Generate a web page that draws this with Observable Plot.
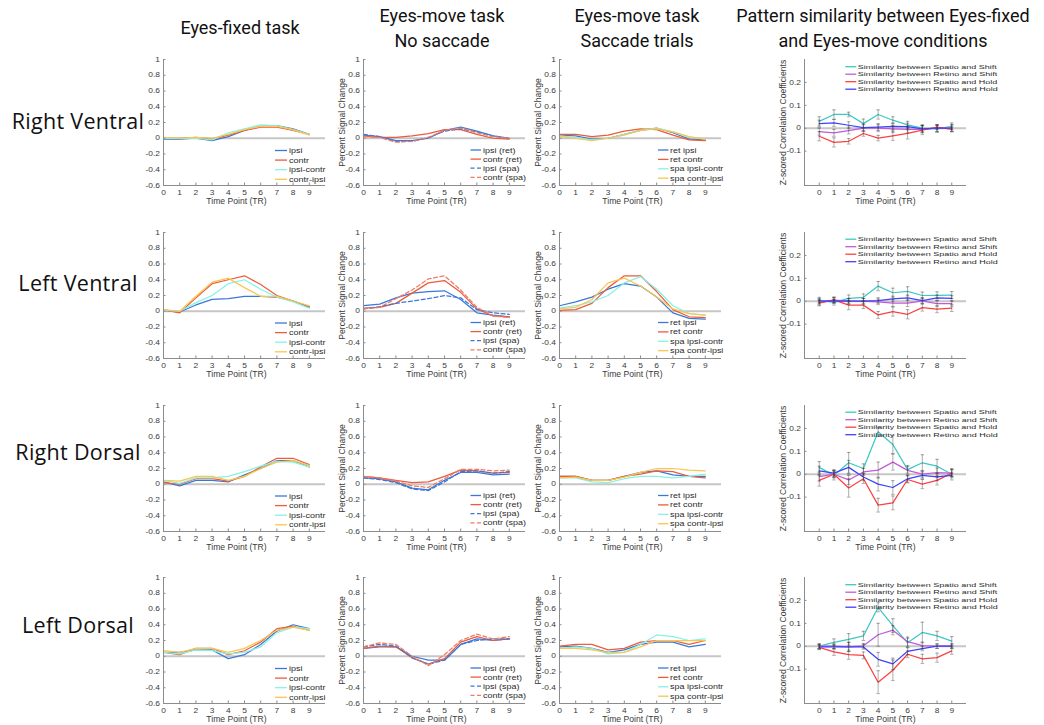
<!DOCTYPE html>
<html>
<head>
<meta charset="utf-8">
<script src="https://cdn.jsdelivr.net/npm/d3@7"></script>
<script src="https://cdn.jsdelivr.net/npm/@observablehq/plot@0.6"></script>
<style>
  body { margin: 0; background: #fff; }
  #fig { position: relative; width: 1044px; height: 725px; overflow: hidden; background: #fff;
         font-family: "Liberation Sans", Arial, sans-serif; }
  .title { position: absolute; font-family: Roboto, sans-serif; font-size: 18px; color: #111;
           white-space: nowrap; line-height: 1; transform: translate(-50%, -50%); }
  .region { position: absolute; font-family: "Open Sans", sans-serif; font-size: 21.5px; letter-spacing: 0.3px;
            color: #111; white-space: nowrap; line-height: 1; transform: translate(-50%, -50%); }
  .panel { position: absolute; }
  .panel svg { overflow: visible; }
  .legend { position: absolute; left: 0; top: 0; overflow: visible; pointer-events: none; }
</style>
</head>
<body>
<div id="fig"></div>
<script>
// ---- labels ----
const timePoints = [0, 1, 2, 3, 4, 5, 6, 7, 8, 9];
const signalTicks = [-0.6, -0.4, -0.2, 0, 0.2, 0.4, 0.6, 0.8, 1];
const similarityTicks = [-0.1, 0, 0.1, 0.2];
const regionNames = ["Right Ventral", "Left Ventral", "Right Dorsal", "Left Dorsal"];
const columnTitles = [
  ["Eyes-fixed task"],
  ["Eyes-move task", "No saccade"],
  ["Eyes-move task", "Saccade trials"],
  ["Pattern similarity between Eyes-fixed", "and Eyes-move conditions"]
];
const fixedLabels = ["ipsi", "contr", "ipsi-contr", "contr-ipsi"];
const noSaccadeLabels = ["ipsi (ret)", "contr (ret)", "ipsi (spa)", "contr (spa)"];
const saccadeLabels = ["ret ipsi", "ret contr", "spa ipsi-contr", "spa contr-ipsi"];
const similarityLabels = [
  "Similarity between Spatio and Shift",
  "Similarity between Retino and Shift",
  "Similarity between Spatio and Hold",
  "Similarity between Retino and Hold"
];

// ---- percent signal change, Eyes-fixed task (ipsi, contr, ipsi-contr, contr-ipsi) ----
const rightVentralFixed = [
  [-0.01, -0.01, 0.00, -0.03, 0.02, 0.10, 0.15, 0.16, 0.12, 0.05],
  [0.00, 0.00, 0.01, -0.01, 0.04, 0.10, 0.14, 0.14, 0.10, 0.05],
  [0.00, 0.00, 0.00, -0.02, 0.07, 0.12, 0.17, 0.16, 0.11, 0.05],
  [0.01, 0.00, 0.01, 0.00, 0.05, 0.11, 0.15, 0.15, 0.11, 0.04]
];
const leftVentralFixed = [
  [0.01, -0.01, 0.08, 0.15, 0.16, 0.19, 0.19, 0.18, 0.13, 0.05],
  [0.02, -0.02, 0.17, 0.35, 0.40, 0.45, 0.34, 0.20, 0.13, 0.06],
  [0.01, 0.00, 0.11, 0.20, 0.35, 0.40, 0.28, 0.18, 0.12, 0.04],
  [0.02, 0.00, 0.19, 0.37, 0.42, 0.30, 0.19, 0.19, 0.13, 0.07]
];
const rightDorsalFixed = [
  [0.03, -0.02, 0.05, 0.05, 0.03, 0.12, 0.20, 0.30, 0.30, 0.22],
  [0.02, 0.00, 0.07, 0.07, 0.04, 0.10, 0.22, 0.33, 0.33, 0.25],
  [0.05, 0.01, 0.08, 0.08, 0.10, 0.16, 0.23, 0.29, 0.28, 0.22],
  [0.05, 0.04, 0.10, 0.10, 0.05, 0.10, 0.20, 0.28, 0.30, 0.24]
];
const leftDorsalFixed = [
  [0.05, 0.05, 0.08, 0.08, -0.03, 0.02, 0.15, 0.32, 0.40, 0.35],
  [0.05, 0.02, 0.10, 0.10, 0.02, 0.07, 0.18, 0.35, 0.38, 0.33],
  [0.05, 0.03, 0.08, 0.07, 0.03, 0.05, 0.12, 0.30, 0.37, 0.35],
  [0.07, 0.05, 0.10, 0.10, 0.05, 0.10, 0.20, 0.33, 0.37, 0.33]
];

// ---- Eyes-move task, no saccade (ipsi ret, contr ret, ipsi spa, contr spa) ----
const rightVentralNoSaccade = [
  [0.04, 0.02, -0.03, -0.03, 0.00, 0.10, 0.14, 0.09, 0.03, 0.00],
  [0.03, 0.01, 0.01, 0.03, 0.06, 0.11, 0.11, 0.05, 0.00, -0.01],
  [0.05, 0.02, -0.04, -0.04, 0.01, 0.09, 0.12, 0.08, 0.03, 0.00],
  [0.02, 0.01, -0.05, -0.04, 0.01, 0.10, 0.13, 0.07, 0.02, 0.00]
];
const leftVentralNoSaccade = [
  [0.07, 0.09, 0.17, 0.23, 0.25, 0.26, 0.15, -0.02, -0.05, -0.07],
  [0.04, 0.05, 0.10, 0.23, 0.36, 0.39, 0.24, 0.03, -0.06, -0.07],
  [0.03, 0.06, 0.10, 0.13, 0.16, 0.20, 0.17, 0.02, -0.02, -0.04],
  [0.03, 0.05, 0.16, 0.27, 0.41, 0.45, 0.27, 0.05, -0.06, -0.08]
];
const rightDorsalNoSaccade = [
  [0.08, 0.07, 0.03, -0.05, -0.07, 0.05, 0.15, 0.15, 0.12, 0.13],
  [0.10, 0.08, 0.05, 0.02, 0.03, 0.10, 0.18, 0.17, 0.14, 0.15],
  [0.08, 0.06, 0.02, -0.06, -0.08, 0.03, 0.16, 0.17, 0.14, 0.16],
  [0.10, 0.08, 0.04, -0.02, -0.04, 0.07, 0.19, 0.19, 0.17, 0.18]
];
const leftDorsalNoSaccade = [
  [0.10, 0.12, 0.12, 0.00, -0.05, -0.05, 0.15, 0.22, 0.20, 0.22],
  [0.10, 0.13, 0.12, -0.02, -0.10, -0.03, 0.18, 0.25, 0.20, 0.22],
  [0.12, 0.15, 0.13, -0.02, -0.10, -0.05, 0.15, 0.20, 0.22, 0.22],
  [0.12, 0.17, 0.15, 0.00, -0.12, 0.02, 0.20, 0.28, 0.22, 0.25]
];

// ---- Eyes-move task, saccade trials (ret ipsi, ret contr, spa ipsi-contr, spa contr-ipsi) ----
const rightVentralSaccade = [
  [0.04, 0.03, -0.01, 0.00, 0.05, 0.10, 0.13, 0.07, -0.01, -0.02],
  [0.05, 0.05, 0.02, 0.04, 0.09, 0.12, 0.11, 0.04, -0.02, -0.03],
  [0.03, 0.01, -0.02, 0.00, 0.05, 0.10, 0.13, 0.08, 0.01, -0.01],
  [0.02, 0.00, -0.03, 0.00, 0.04, 0.10, 0.12, 0.08, 0.02, -0.01]
];
const leftVentralSaccade = [
  [0.07, 0.12, 0.18, 0.28, 0.35, 0.32, 0.18, -0.02, -0.09, -0.10],
  [0.01, 0.02, 0.10, 0.30, 0.45, 0.45, 0.25, 0.02, -0.07, -0.08],
  [0.04, 0.07, 0.12, 0.20, 0.36, 0.44, 0.28, 0.07, -0.03, -0.05],
  [0.03, 0.05, 0.15, 0.36, 0.42, 0.32, 0.18, 0.03, -0.03, -0.05]
];
const rightDorsalSaccade = [
  [0.10, 0.10, 0.05, 0.05, 0.10, 0.15, 0.17, 0.12, 0.10, 0.10],
  [0.10, 0.10, 0.05, 0.05, 0.10, 0.13, 0.17, 0.16, 0.10, 0.08],
  [0.08, 0.08, 0.03, 0.02, 0.07, 0.10, 0.10, 0.08, 0.10, 0.13],
  [0.08, 0.09, 0.05, 0.05, 0.09, 0.15, 0.20, 0.20, 0.18, 0.17]
];
const leftDorsalSaccade = [
  [0.12, 0.13, 0.10, 0.05, 0.08, 0.15, 0.18, 0.18, 0.12, 0.15],
  [0.13, 0.15, 0.15, 0.08, 0.10, 0.18, 0.20, 0.20, 0.15, 0.20],
  [0.10, 0.12, 0.10, 0.03, 0.05, 0.15, 0.27, 0.25, 0.20, 0.22],
  [0.10, 0.10, 0.08, 0.05, 0.05, 0.12, 0.20, 0.20, 0.20, 0.20]
];

// ---- z-scored pattern similarity (Spatio-Shift, Retino-Shift, Spatio-Hold, Retino-Hold) ----
const rightVentralSimilarity = [
  [0.030, 0.060, 0.060, 0.020, 0.060, 0.035, 0.015, 0.000, -0.003, 0.008],
  [-0.015, -0.020, -0.010, 0.000, 0.000, -0.003, -0.005, -0.005, 0.000, 0.000],
  [-0.035, -0.062, -0.057, -0.023, -0.043, -0.033, -0.022, -0.008, 0.005, -0.005],
  [0.020, 0.023, 0.013, 0.003, 0.005, 0.008, 0.007, -0.003, 0.000, 0.000]
];
const rightVentralSimilarityErr = [
  [0.020, 0.020, 0.010, 0.020, 0.020, 0.015, 0.015, 0.015, 0.015, 0.015],
  [0.015, 0.015, 0.015, 0.015, 0.015, 0.015, 0.015, 0.015, 0.015, 0.015],
  [0.020, 0.020, 0.012, 0.012, 0.012, 0.020, 0.025, 0.020, 0.010, 0.010],
  [0.015, 0.015, 0.015, 0.015, 0.015, 0.015, 0.015, 0.015, 0.015, 0.015]
];
const leftVentralSimilarity = [
  [0.005, -0.005, 0.012, 0.017, 0.066, 0.037, 0.043, 0.025, 0.026, 0.027],
  [-0.005, 0.005, 0.000, 0.000, -0.003, -0.008, -0.008, 0.002, -0.010, -0.010],
  [-0.008, 0.006, -0.017, -0.017, -0.060, -0.045, -0.057, -0.028, -0.035, -0.030],
  [0.000, 0.002, 0.000, 0.000, 0.003, 0.010, 0.015, 0.003, 0.015, 0.012]
];
const leftVentralSimilarityErr = [
  [0.012, 0.012, 0.015, 0.015, 0.020, 0.020, 0.020, 0.015, 0.015, 0.015],
  [0.012, 0.012, 0.012, 0.012, 0.012, 0.015, 0.015, 0.012, 0.012, 0.012],
  [0.012, 0.012, 0.020, 0.015, 0.015, 0.020, 0.020, 0.015, 0.015, 0.015],
  [0.012, 0.012, 0.012, 0.012, 0.012, 0.012, 0.012, 0.012, 0.012, 0.012]
];
const rightDorsalSimilarity = [
  [0.030, -0.005, 0.050, 0.025, 0.185, 0.130, 0.020, 0.050, 0.035, 0.000],
  [-0.010, 0.000, -0.025, 0.010, 0.018, 0.053, 0.017, 0.000, 0.007, 0.005],
  [-0.027, 0.000, -0.060, -0.020, -0.135, -0.125, -0.023, -0.043, -0.027, 0.005],
  [0.015, 0.005, 0.030, -0.012, -0.043, -0.058, -0.020, -0.005, -0.012, -0.005]
];
const rightDorsalSimilarityErr = [
  [0.025, 0.020, 0.045, 0.020, 0.020, 0.040, 0.015, 0.035, 0.030, 0.025],
  [0.020, 0.015, 0.020, 0.015, 0.035, 0.035, 0.020, 0.015, 0.020, 0.015],
  [0.025, 0.015, 0.040, 0.020, 0.030, 0.030, 0.015, 0.020, 0.020, 0.015],
  [0.020, 0.015, 0.030, 0.015, 0.030, 0.030, 0.015, 0.015, 0.015, 0.010]
];
const leftDorsalSimilarity = [
  [0.000, 0.017, 0.030, 0.045, 0.170, 0.090, 0.015, 0.060, 0.045, 0.022],
  [0.000, 0.000, -0.003, 0.002, 0.050, 0.070, 0.020, 0.003, 0.000, 0.000],
  [-0.005, -0.025, -0.037, -0.040, -0.157, -0.105, -0.035, -0.055, -0.050, -0.020],
  [-0.003, -0.003, -0.003, -0.003, -0.057, -0.077, -0.022, -0.010, 0.000, 0.000]
];
const leftDorsalSimilarityErr = [
  [0.010, 0.015, 0.025, 0.020, 0.020, 0.030, 0.020, 0.045, 0.020, 0.020],
  [0.010, 0.010, 0.020, 0.010, 0.050, 0.020, 0.020, 0.015, 0.010, 0.010],
  [0.010, 0.015, 0.020, 0.015, 0.050, 0.045, 0.015, 0.020, 0.020, 0.015],
  [0.010, 0.010, 0.020, 0.010, 0.030, 0.025, 0.015, 0.010, 0.010, 0.010]
];

// ---- styles ----
const fixedColors = ["#3a78d8", "#ec5b3e", "#86f2e6", "#f9c64f"];
const noSaccadeColors = ["#3a78d8", "#ec5b3e", "#3a78d8", "#f07a62"];
const noSaccadeDashes = [null, null, "4,2.5", "4,2.5"];
const similarityColors = ["#3cc9c4", "#c45ad8", "#ff4040", "#4040ff"];

// ---- layout ----
const fig = document.getElementById("fig");
const frameW = 162;
const frameH = 126;
const frameLefts = [163, 363, 559, 804.3];
const frameTops = [59, 231.5, 404.5, 577];
const M = {l: 40, r: 6, t: 4, b: 30};
const axisColor = "#8c8c8c";
const textColor = "#3a3a3a";

// stretch text horizontally around its anchor
function stretchText(svg, selector, k) {
  svg.querySelectorAll(selector).forEach(t => {
    const tr = t.getAttribute("transform") || "";
    const x = t.getAttribute("x"), y = t.getAttribute("y");
    if (x != null && !tr) {
      t.setAttribute("transform", `translate(${x},${y || 0})`);
      t.removeAttribute("x");
      if (y != null && !/em/.test(y)) t.removeAttribute("y");
    }
    t.setAttribute("transform", (t.getAttribute("transform") || "") + ` scale(${k},1)`);
  });
}

function axisMarks(xDomain, yDomain, yTicks, yLabel) {
  return [
    Plot.ruleX([xDomain[0]], {stroke: axisColor, strokeWidth: 1}),
    Plot.ruleY([yDomain[0]], {stroke: axisColor, strokeWidth: 1}),
    Plot.axisX({ticks: timePoints, tickSize: 0, tickPadding: 4.5, tickFormat: d => String(d),
                label: null, fill: textColor, fontSize: 7}),
    Plot.axisX({ticks: timePoints, tickSize: 2.5, dy: -2.5, tickFormat: () => "", label: null, stroke: axisColor}),
    Plot.axisY({ticks: yTicks, tickSize: 0, tickPadding: 3.5, tickFormat: d => String(d),
                label: null, fill: textColor, fontSize: 7}),
    Plot.axisY({ticks: yTicks, tickSize: 2.5, dx: 2.5, tickFormat: () => "", label: null, stroke: axisColor}),
    Plot.text(["Time Point (TR)"], {frameAnchor: "bottom", dy: 15.5, dx: xDomain[0] === 0 ? -8 : 0,
                textAnchor: "middle", lineAnchor: "middle", fill: textColor, fontSize: 8.6}),
    ...(yLabel ? [Plot.text([yLabel], {frameAnchor: "left", dx: -21, rotate: -90,
                textAnchor: "middle", lineAnchor: "middle", fill: textColor, fontSize: 8.6})] : [])
  ];
}

function place(svg, col, row) {
  const wrap = document.createElement("div");
  wrap.className = "panel";
  wrap.style.left = (frameLefts[col] - M.l) + "px";
  wrap.style.top = (frameTops[row] - M.t) + "px";
  wrap.appendChild(svg);
  fig.appendChild(wrap);
}

function legend(col, row, labels, colors, dashes, opts) {
  const x0 = frameLefts[col], y0 = frameTops[row];
  const svg = d3.create("svg").attr("class", "legend").attr("width", 1044).attr("height", 725)
    .style("position", "absolute").style("left", "0px").style("top", "0px");
  labels.forEach((lab, i) => {
    const y = y0 + opts.y + i * opts.step;
    svg.append("line").attr("x1", x0 + opts.x1).attr("x2", x0 + opts.x2).attr("y1", y).attr("y2", y)
      .attr("stroke", colors[i]).attr("stroke-width", 1.3)
      .attr("stroke-dasharray", dashes ? dashes[i] : null);
    svg.append("text").attr("transform", `translate(${x0 + opts.tx},${y}) scale(${opts.k},1)`)
      .attr("dy", "0.35em").attr("font-size", opts.fs).attr("fill", "#2a2a2a")
      .attr("font-family", "Liberation Sans, Arial, sans-serif").text(lab);
  });
  fig.appendChild(svg.node());
}

function signalPanel(col, row, series, labels, colors, dashes, yLabel) {
  const data = series.flatMap((vals, s) => vals.map((v, i) => ({t: timePoints[i], v, s})));
  const xDomain = [0, 10], yDomain = [-0.6, 1];
  const svg = Plot.plot({
    width: M.l + frameW + M.r, height: M.t + frameH + M.b,
    marginLeft: M.l, marginRight: M.r, marginTop: M.t, marginBottom: M.b,
    x: {domain: xDomain, axis: null},
    y: {domain: yDomain, axis: null},
    style: {fontFamily: "Liberation Sans, Arial, sans-serif", background: "transparent", overflow: "visible"},
    marks: [
      Plot.ruleY([0], {stroke: "#c6c6c6", strokeWidth: 2}),
      ...series.map((_, s) => Plot.line(data.filter(d => d.s === s), {
        x: "t", y: "v", stroke: colors[s], strokeWidth: 1.25,
        strokeDasharray: dashes ? dashes[s] : undefined
      })),
      ...axisMarks(xDomain, yDomain, signalTicks, yLabel)
    ]
  });
  stretchText(svg, '[aria-label="x-axis tick label"] text, [aria-label="y-axis tick label"] text', 1.2);
  place(svg, col, row);
}

function similarityPanel(row, series, errors) {
  const data = series.flatMap((vals, s) => vals.map((v, i) => ({t: timePoints[i], v, e: errors[s][i], s})));
  const xDomain = [-1, 10], yDomain = [-0.25, 0.3];
  const svg = Plot.plot({
    width: M.l + frameW + M.r, height: M.t + frameH + M.b,
    marginLeft: M.l, marginRight: M.r, marginTop: M.t, marginBottom: M.b,
    x: {domain: xDomain, axis: null},
    y: {domain: yDomain, axis: null},
    style: {fontFamily: "Liberation Sans, Arial, sans-serif", background: "transparent", overflow: "visible"},
    marks: [
      Plot.ruleY([0], {stroke: "#c6c6c6", strokeWidth: 2}),
      ...series.map((_, s) => Plot.line(data.filter(d => d.s === s), {
        x: "t", y: "v", stroke: similarityColors[s], strokeWidth: 1.25
      })),
      Plot.ruleX(data, {x: "t", y1: d => d.v - d.e, y2: d => d.v + d.e, stroke: "#333", strokeOpacity: 0.5, strokeWidth: 0.8}),
      Plot.link(data, {x1: d => d.t - 0.12, x2: d => d.t + 0.12, y1: d => d.v - d.e, y2: d => d.v - d.e,
                       stroke: "#333", strokeOpacity: 0.5, strokeWidth: 0.8}),
      Plot.link(data, {x1: d => d.t - 0.12, x2: d => d.t + 0.12, y1: d => d.v + d.e, y2: d => d.v + d.e,
                       stroke: "#333", strokeOpacity: 0.5, strokeWidth: 0.8}),
      ...axisMarks(xDomain, yDomain, similarityTicks, "Z-scored Correlation Coefficients")
    ]
  });
  stretchText(svg, '[aria-label="x-axis tick label"] text, [aria-label="y-axis tick label"] text', 1.2);
  place(svg, 3, row);
}

// ---- titles ----
const titleX = [240, 442, 637, 883];
columnTitles.forEach((lines, c) => {
  lines.forEach((line, j) => {
    const d = document.createElement("div");
    d.className = "title";
    d.textContent = line;
    d.style.left = titleX[c] + "px";
    d.style.top = (lines.length === 1 ? 28 : (j === 0 ? 16 : 41)) + "px";
    fig.appendChild(d);
  });
});
const regionY = [121, 283, 452, 625];
regionNames.forEach((name, r) => {
  const d = document.createElement("div");
  d.className = "region";
  d.textContent = name;
  d.style.left = "78px";
  d.style.top = regionY[r] + "px";
  fig.appendChild(d);
});

// ---- panels ----
const fixedRows = [rightVentralFixed, leftVentralFixed, rightDorsalFixed, leftDorsalFixed];
const noSaccadeRows = [rightVentralNoSaccade, leftVentralNoSaccade, rightDorsalNoSaccade, leftDorsalNoSaccade];
const saccadeRows = [rightVentralSaccade, leftVentralSaccade, rightDorsalSaccade, leftDorsalSaccade];
const similarityRows = [rightVentralSimilarity, leftVentralSimilarity, rightDorsalSimilarity, leftDorsalSimilarity];
const similarityErrRows = [rightVentralSimilarityErr, leftVentralSimilarityErr, rightDorsalSimilarityErr, leftDorsalSimilarityErr];

for (let r = 0; r < 4; r++) {
  signalPanel(0, r, fixedRows[r], fixedLabels, fixedColors, null, null);
  signalPanel(1, r, noSaccadeRows[r], noSaccadeLabels, noSaccadeColors, noSaccadeDashes, "Percent Signal Change");
  signalPanel(2, r, saccadeRows[r], saccadeLabels, fixedColors, null, "Percent Signal Change");
  similarityPanel(r, similarityRows[r], similarityErrRows[r]);

  legend(0, r, fixedLabels, fixedColors, null, {x1: 112, x2: 124, tx: 126, y: 91.5, step: 9.6, fs: 7.2, k: 1.25});
  legend(1, r, noSaccadeLabels, noSaccadeColors, noSaccadeDashes, {x1: 107.5, x2: 118, tx: 120, y: 91, step: 9.1, fs: 7.2, k: 1.25});
  legend(2, r, saccadeLabels, fixedColors, null, {x1: 99, x2: 109.5, tx: 111, y: 91, step: 9.4, fs: 7.2, k: 1.25});
  legend(3, r, similarityLabels, similarityColors, null, {x1: 41, x2: 52, tx: 53.5, y: 7.7, step: 7.5, fs: 6.2, k: 1.45});
}
</script>
</body>
</html>
